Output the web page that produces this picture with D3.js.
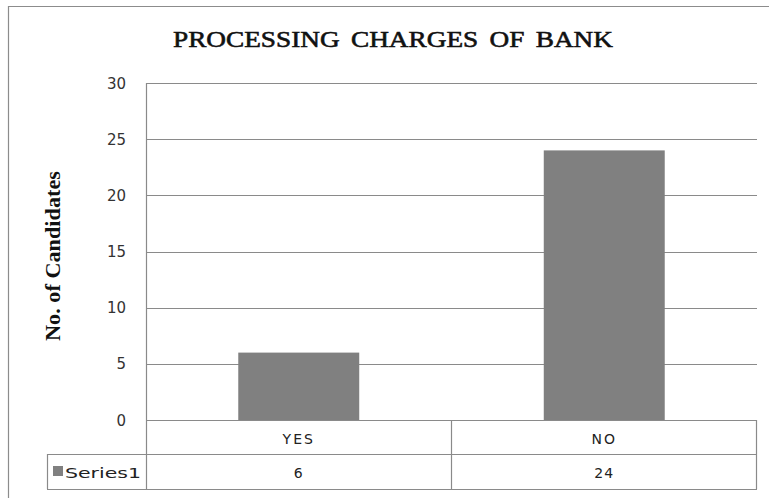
<!DOCTYPE html>
<html>
<head>
<meta charset="utf-8">
<script src="https://cdn.jsdelivr.net/npm/d3@7"></script>
<style>
  html, body { margin: 0; padding: 0; background: #fff; }
  svg { display: block; }
</style>
</head>
<body>
<svg id="chart" width="769" height="498"></svg>
<script>
// Chart data
const categories = ["YES", "NO"];
const values = [6, 24];
const seriesName = "Series1";
const yTicks = [0, 5, 10, 15, 20, 25, 30];
const titleText = "PROCESSING CHARGES OF BANK";
const yLabel = "No. of Candidates";

(function () {
  const svg = d3.select("#chart");
  const W = 769, H = 498;

  // Plot area
  const plotLeft = 146, plotRight = 757, plotTop = 83, plotBottom = 420;
  const tableRow1 = 454, tableBottom = 489, legendLeft = 47;

  const gridColor = "#8a8a8a";
  const barColor = "#808080";

  // Outer frame (runs off the right and bottom edges)
  svg.append("path")
    .attr("d", `M8.5,${H + 2} V6.5 H${W + 2}`)
    .attr("fill", "none")
    .attr("stroke", "#8c8c8c")
    .attr("stroke-width", 1.2);

  // Title
  svg.append("text")
    .attr("x", 393).attr("y", 47)
    .attr("text-anchor", "middle")
    .attr("font-family", "'Liberation Serif', 'Times New Roman', serif")
    .attr("font-size", 24)
    .attr("textLength", 440)
    .attr("lengthAdjust", "spacingAndGlyphs")
    .attr("fill", "#111")
    .attr("stroke", "#111")
    .attr("stroke-width", 0.6)
    .style("word-spacing", "4px")
    .text(titleText);

  // Scales
  const y = d3.scaleLinear().domain([0, 30]).range([plotBottom, plotTop]);
  const x = d3.scaleBand().domain(categories).range([plotLeft, plotRight]).padding(0);
  const barFrac = 0.396;

  // Gridlines
  svg.append("g")
    .selectAll("line")
    .data(yTicks)
    .join("line")
    .attr("x1", plotLeft).attr("x2", plotRight)
    .attr("y1", d => Math.round(y(d)) + 0.5)
    .attr("y2", d => Math.round(y(d)) + 0.5)
    .attr("stroke", gridColor)
    .attr("stroke-width", 1.2);

  // Y axis
  const yAxis = d3.axisLeft(y).tickValues(yTicks).tickSize(0).tickPadding(0);
  const gy = svg.append("g")
    .attr("transform", `translate(126,0)`)
    .call(yAxis);
  gy.select(".domain").remove();
  gy.selectAll("text")
    .attr("font-family", "'DejaVu Sans', Verdana, sans-serif")
    .attr("font-size", 15)
    .attr("fill", "#333")
    .attr("dy", "0.34em");

  // Vertical axis line
  svg.append("line")
    .attr("x1", plotLeft + 0.5).attr("x2", plotLeft + 0.5)
    .attr("y1", plotTop).attr("y2", tableBottom)
    .attr("stroke", gridColor)
    .attr("stroke-width", 1.2);

  // Bars
  svg.append("g")
    .selectAll("rect")
    .data(values)
    .join("rect")
    .attr("x", (d, i) => x(categories[i]) + x.bandwidth() * (1 - barFrac) / 2)
    .attr("width", x.bandwidth() * barFrac)
    .attr("y", d => y(d))
    .attr("height", d => y(0) - y(d))
    .attr("fill", barColor);

  // Y axis title
  svg.append("text")
    .attr("transform", `translate(60,256) rotate(-90)`)
    .attr("text-anchor", "middle")
    .attr("font-family", "'Liberation Serif', 'Times New Roman', serif")
    .attr("font-size", 20)
    .attr("font-weight", "bold")
    .attr("textLength", 170)
    .attr("lengthAdjust", "spacingAndGlyphs")
    .attr("fill", "#111")
    .text(yLabel);

  // Data table
  const tbl = svg.append("g")
    .attr("fill", "none")
    .attr("stroke", gridColor)
    .attr("stroke-width", 1.2);
  tbl.append("line").attr("x1", legendLeft).attr("x2", plotRight).attr("y1", tableRow1 + 0.5).attr("y2", tableRow1 + 0.5);
  tbl.append("line").attr("x1", legendLeft).attr("x2", plotRight).attr("y1", tableBottom + 0.5).attr("y2", tableBottom + 0.5);
  tbl.append("line").attr("x1", legendLeft + 0.5).attr("x2", legendLeft + 0.5).attr("y1", tableRow1).attr("y2", tableBottom);
  categories.forEach(c => {
    const xr = x(c) + x.bandwidth();
    tbl.append("line").attr("x1", Math.round(xr) - 0.5).attr("x2", Math.round(xr) - 0.5).attr("y1", plotBottom).attr("y2", tableBottom);
  });

  const tableFont = "'DejaVu Sans', Verdana, sans-serif";
  // category row
  svg.append("g")
    .selectAll("text")
    .data(categories)
    .join("text")
    .attr("x", d => x(d) + x.bandwidth() / 2)
    .attr("y", 444)
    .attr("text-anchor", "middle")
    .attr("font-family", tableFont)
    .attr("font-size", 14)
    .attr("letter-spacing", 2)
    .attr("fill", "#222")
    .text(d => d);

  // values row
  svg.append("g")
    .selectAll("text")
    .data(values)
    .join("text")
    .attr("x", (d, i) => x(categories[i]) + x.bandwidth() / 2)
    .attr("y", 478)
    .attr("text-anchor", "middle")
    .attr("font-family", tableFont)
    .attr("font-size", 14)
    .attr("letter-spacing", 1)
    .attr("fill", "#222")
    .text(d => d);

  // legend key
  svg.append("rect")
    .attr("x", 53).attr("y", 466).attr("width", 10).attr("height", 10)
    .attr("fill", barColor);
  svg.append("text")
    .attr("x", 65).attr("y", 478)
    .attr("font-family", tableFont)
    .attr("font-size", 14)
    .attr("textLength", 76)
    .attr("lengthAdjust", "spacingAndGlyphs")
    .attr("fill", "#222")
    .text(seriesName);
})();
</script>
</body>
</html>
